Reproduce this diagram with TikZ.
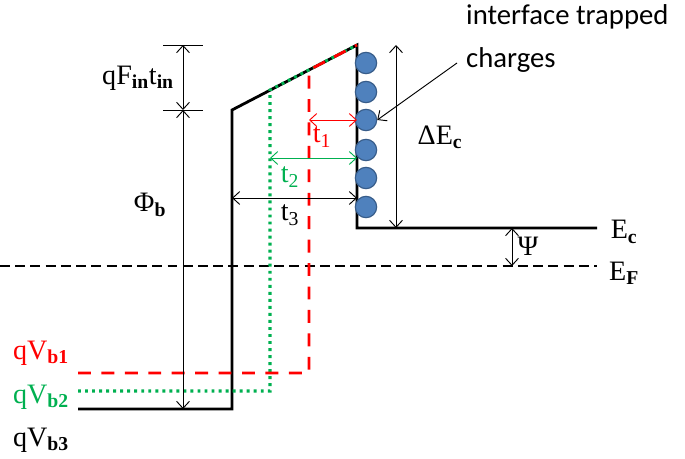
\documentclass[tikz,border=0pt]{standalone}
\usepackage{fontspec}
\setmainfont{Liberation Serif}
\newfontfamily\calibfont{Carlito}
\usetikzlibrary{arrows.meta}
\definecolor{bandred}{RGB}{255,0,0}
\definecolor{bandgreen}{RGB}{0,176,80}
\definecolor{chargeblue}{RGB}{79,129,189}
\definecolor{chargeedge}{RGB}{56,93,138}
\newcommand{\lo}[1]{\textsubscript{\textbf{#1}}}

\begin{document}
\begin{tikzpicture}[
    x=0.03cm, y=-0.03cm,
    band/.style={line width=2.4pt, line join=miter},
    dim/.style={{Straight Barb[length=6pt,width=11pt]}-{Straight Barb[length=6pt,width=11pt]}, line width=0.8pt},
    lbl/.style={font=\fontsize{24}{28}\selectfont, inner sep=0pt},
    charge/.style={circle, draw=chargeedge, fill=chargeblue, line width=1pt,
                   minimum size=0.64cm, inner sep=0pt}
]
\useasboundingbox (0,0) rectangle (685,459);

% key points of the bands
\coordinate (barL)  at (232,110);
\coordinate (barT)  at (357,45);
\coordinate (barB)  at (357,228);
\coordinate (ecR)   at (597,228);
\coordinate (vb3)   at (232,409);
\coordinate (vb2)   at (270,391);
\coordinate (vb1)   at (309,373);

% Fermi level
\draw[line width=2.4pt, dash pattern=on 8.5pt off 4.5pt] (0,266) -- (597,266);

% bands
\draw[band] (78,409) -- (vb3) -- (barL) -- (barT) -- (barB) -- (ecR);
\draw[band, bandgreen, line width=2.6pt, dash pattern=on 2.5pt off 3.5pt]
    (78,391) -- (vb2) -- (270,90) -- (barT);
\draw[band, bandred, dash pattern=on 11pt off 9pt]
    (78,373) -- (vb1) -- (309,70) -- (barT);

% interface trapped charges
\foreach \y/\n in {63/1, 92/2, 120/3, 150/4, 178/5, 207/6}
    \node[charge] (q\n) at (366,\y) {};

% barrier heights
\coordinate (tkT) at (183,45);
\coordinate (tkM) at (183,110);
\coordinate (tkB) at (183,409);
\draw[line width=0.8pt] (163,45) -- (203,45);
\draw[line width=0.8pt] (163,110) -- (203,110);
\draw[dim] (tkT) -- (tkM);
\draw[dim] (tkM) -- (tkB);
\node[lbl] (qf)  at (138,78)  {qF\lo{in}t\lo{in}};
\node[lbl] (phi) at (150,205) {Φ\lo{b}};

% thicknesses
\coordinate (t1a) at (309,120);  \coordinate (t1b) at (357,120);
\coordinate (t2a) at (270,158);  \coordinate (t2b) at (357,158);
\coordinate (t3a) at (232,198);  \coordinate (t3b) at (357,198);
\draw[dim, bandred]   (t1a) -- (t1b);
\draw[dim, bandgreen] (t2a) -- (t2b);
\draw[dim]            (t3a) -- (t3b);
\node[lbl, bandred]   (t1) at (322,137) {t\textsubscript{1}};
\node[lbl, bandgreen] (t2) at (290,177) {t\textsubscript{2}};
\node[lbl]            (t3) at (290,215) {t\textsubscript{3}};

% conduction band offset and Psi
\coordinate (deT) at (396,45);
\coordinate (deB) at (396,228);
\draw[dim] (deT) -- (deB);
\node[lbl] (dec) at (440,137) {ΔE\lo{c}};
\coordinate (psT) at (512,228);
\coordinate (psB) at (512,266);
\draw[dim] (psT) -- (psB);
\node[lbl] (psi) at (528,246) {Ψ};
\node[lbl] (ec) at (624,232) {E\lo{c}};
\node[lbl] (ef) at (624,273) {E\lo{F}};

% Vb levels
\node[lbl, bandred]   (qv1) at (41,353) {qV\lo{b1}};
\node[lbl, bandgreen] (qv2) at (41,397) {qV\lo{b2}};
\node[lbl]            (qv3) at (41,440) {qV\lo{b3}};

% annotation
\node[font=\calibfont\fontsize{24.5}{37}\selectfont, align=left, anchor=north west,
      inner sep=0pt] (note) at (466,4) {interface trapped\\charges};
\coordinate (noteA) at (457,63);
\draw[line width=0.8pt, -{Straight Barb[length=6pt,width=11pt]}] (noteA) -- (q3.east);
\end{tikzpicture}
\end{document}
